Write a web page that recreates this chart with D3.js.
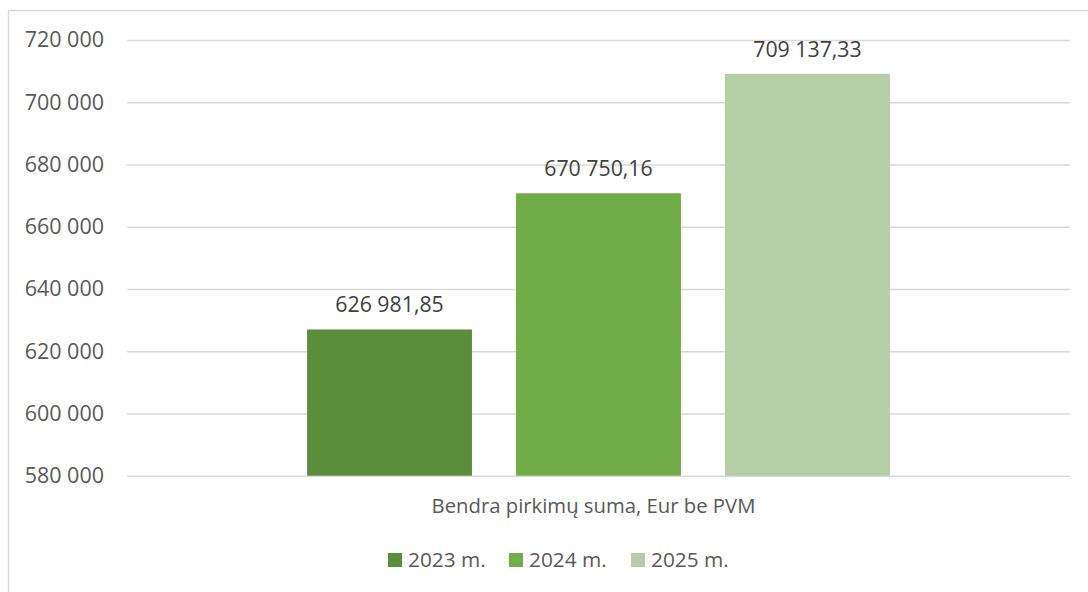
<!DOCTYPE html>
<html><head><meta charset="utf-8">
<script src="https://cdn.jsdelivr.net/npm/d3@7"></script>
<style>body{margin:0;background:#fff;}svg{display:block;font-family:"Open Sans",sans-serif;}</style>
</head><body>
<script>
const category = "Bendra pirkimų suma, Eur be PVM";
const seriesNames = ["2023 m.", "2024 m.", "2025 m."];
const seriesValues = [626981.85, 670750.16, 709137.33];
const valueLabels = ["626 981,85", "670 750,16", "709 137,33"];
const yTicks = [580000, 600000, 620000, 640000, 660000, 680000, 700000, 720000];
const colors = ["#5B8E3A", "#70AD47", "#B4CEA6"];

(function () {
const W = 1088, H = 592;
const svg = d3.select("body").append("svg").attr("width", W).attr("height", H);
svg.append("rect").attr("x", 8.5).attr("y", 10.5).attr("width", W + 10).attr("height", H + 10)
  .attr("fill", "none").attr("stroke", "#D9D9D9").attr("stroke-width", 1.5);

const pl = 127, pr = 1070, pt = 40, pb = 475.7;
const y = d3.scaleLinear().domain([580000, 720000]).range([pb, pt]);
const x0 = d3.scaleBand().domain([category]).range([pl, pr]).paddingInner(0).paddingOuter(0.309);
const x1 = d3.scaleBand().domain(seriesNames).range([x0(category), x0(category) + x0.bandwidth()]).paddingInner(0.211).paddingOuter(0);

const fmt = v => d3.format(",")(v).replace(/,/g, " ");
const yAxis = d3.axisLeft(y).tickValues(yTicks).tickSize(-(pr - pl)).tickPadding(23).tickFormat(fmt);
const ga = svg.append("g").attr("transform", `translate(${pl},0)`).call(yAxis);
ga.select(".domain").remove();
ga.selectAll(".tick line").attr("stroke", "#D9D9D9").attr("stroke-width", 1.4);
ga.selectAll(".tick text").attr("fill", "#595959").attr("font-size", 21.5).attr("font-family", "Open Sans");

svg.selectAll("rect.bar").data(seriesValues).join("rect").attr("class", "bar")
  .attr("x", (d, i) => x1(seriesNames[i])).attr("width", x1.bandwidth())
  .attr("y", d => y(d)).attr("height", d => pb - y(d))
  .attr("fill", (d, i) => colors[i]);

svg.selectAll("text.lbl").data(seriesValues).join("text").attr("class", "lbl")
  .attr("x", (d, i) => x1(seriesNames[i]) + x1.bandwidth() / 2).attr("y", d => y(d) - 17)
  .attr("text-anchor", "middle").attr("fill", "#404040").attr("font-size", 21.3)
  .text((d, i) => valueLabels[i]);

svg.append("text").attr("x", (pl + pr) / 2 - 5).attr("y", 513).attr("text-anchor", "middle")
  .attr("fill", "#595959").attr("font-size", 20.3).text(category);

const legX = [388, 509, 631];
const lg = svg.selectAll("g.leg").data(seriesNames).join("g").attr("class", "leg")
  .attr("transform", (d, i) => `translate(${legX[i]},553)`);
lg.append("rect").attr("width", 14).attr("height", 14).attr("fill", (d, i) => colors[i]);
lg.append("text").attr("x", 20).attr("y", 14).attr("fill", "#595959").attr("font-size", 20.8).text(d => d);
})();
</script>
</body></html>
